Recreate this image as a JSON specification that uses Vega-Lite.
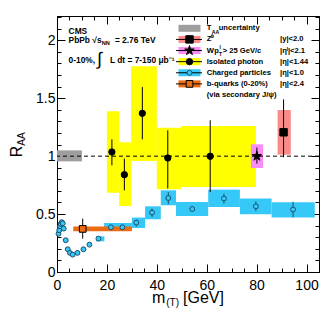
{
  "$schema": "https://vega.github.io/schema/vega-lite/v6.json",
  "width": 262,
  "height": 256,
  "autosize": {"type": "none"},
  "padding": {"left": 57, "top": 16, "right": 13, "bottom": 48},
  "background": "white",
  "config": {
    "view": {"stroke": "black", "strokeWidth": 1},
    "text": {"font": "Liberation Sans", "fontSize": 7.6, "fontWeight": "bold", "color": "black", "align": "left", "baseline": "middle"},
    "axis": {"grid": false, "domainColor": "black", "tickColor": "black", "labelColor": "black", "labelFont": "Liberation Sans", "labelFontSize": 14, "title": null, "labelOverlap": false, "labelFlush": false}
  },
  "datasets": {
    "one": [{}],
    "sys": [
      {"s": "TAA", "x1": 0, "x2": 10, "y1": 0.955, "y2": 1.05},
      {"s": "photon", "x1": 20, "x2": 24.9, "y1": 0.685, "y2": 1.387},
      {"s": "photon", "x1": 24.9, "x2": 29.7, "y1": 0.57, "y2": 1.12},
      {"s": "photon", "x1": 29.7, "x2": 40, "y1": 0.958, "y2": 1.776},
      {"s": "photon", "x1": 40, "x2": 49.7, "y1": 0.714, "y2": 1.246},
      {"s": "photon", "x1": 49.7, "x2": 79.7, "y1": 0.734, "y2": 1.26},
      {"s": "charged", "x1": 15.7, "x2": 19, "y1": 0.265, "y2": 0.308},
      {"s": "charged", "x1": 18.9, "x2": 30, "y1": 0.36, "y2": 0.423},
      {"s": "charged", "x1": 30, "x2": 35.3, "y1": 0.38, "y2": 0.47},
      {"s": "charged", "x1": 35.3, "x2": 41.6, "y1": 0.455, "y2": 0.567},
      {"s": "charged", "x1": 41.6, "x2": 47.7, "y1": 0.576, "y2": 0.705},
      {"s": "charged", "x1": 47.7, "x2": 60.6, "y1": 0.483, "y2": 0.604},
      {"s": "charged", "x1": 60.6, "x2": 73.3, "y1": 0.561, "y2": 0.711},
      {"s": "charged", "x1": 73.3, "x2": 86, "y1": 0.498, "y2": 0.634},
      {"s": "charged", "x1": 86, "x2": 103.3, "y1": 0.47, "y2": 0.602},
      {"s": "bquark", "x1": 6.5, "x2": 30, "y1": 0.351, "y2": 0.392},
      {"s": "W", "x1": 77.7, "x2": 82.6, "y1": 0.898, "y2": 1.102},
      {"s": "Z", "x1": 88.4, "x2": 93.7, "y1": 1.013, "y2": 1.398}
    ],
    "pts": [
      {"s": "charged", "x": 0.6, "y": 0.33},
      {"s": "charged", "x": 0.9, "y": 0.36},
      {"s": "charged", "x": 1.2, "y": 0.395},
      {"s": "charged", "x": 1.5, "y": 0.415},
      {"s": "charged", "x": 1.9, "y": 0.43},
      {"s": "charged", "x": 2.3, "y": 0.42},
      {"s": "charged", "x": 2.7, "y": 0.375},
      {"s": "charged", "x": 3.5, "y": 0.274},
      {"s": "charged", "x": 4.3, "y": 0.196},
      {"s": "charged", "x": 5.2, "y": 0.165},
      {"s": "charged", "x": 6.3, "y": 0.15},
      {"s": "charged", "x": 8.2, "y": 0.165},
      {"s": "charged", "x": 10.6, "y": 0.196},
      {"s": "charged", "x": 13.0, "y": 0.236},
      {"s": "charged", "x": 16.6, "y": 0.288},
      {"s": "charged", "x": 21.6, "y": 0.386},
      {"s": "charged", "x": 26.2, "y": 0.386},
      {"s": "charged", "x": 31.8, "y": 0.426, "lo": 0.394, "hi": 0.452},
      {"s": "charged", "x": 38.1, "y": 0.513, "lo": 0.475, "hi": 0.547},
      {"s": "charged", "x": 44.6, "y": 0.639, "lo": 0.585, "hi": 0.69},
      {"s": "charged", "x": 54.2, "y": 0.544},
      {"s": "charged", "x": 66.9, "y": 0.634, "lo": 0.591, "hi": 0.677},
      {"s": "charged", "x": 79.7, "y": 0.567, "lo": 0.524, "hi": 0.61},
      {"s": "charged", "x": 94.6, "y": 0.539, "lo": 0.472, "hi": 0.606},
      {"s": "bquark", "x": 10.3, "y": 0.372, "lo": 0.288, "hi": 0.461},
      {"s": "photon", "x": 22, "y": 1.036, "lo": 0.921, "hi": 1.145},
      {"s": "photon", "x": 27, "y": 0.84, "lo": 0.705, "hi": 0.979},
      {"s": "photon", "x": 34.2, "y": 1.37, "lo": 1.145, "hi": 1.597},
      {"s": "photon", "x": 44.4, "y": 0.984, "lo": 0.72, "hi": 1.223},
      {"s": "photon", "x": 61.4, "y": 0.999, "lo": 0.69, "hi": 1.31},
      {"s": "W", "x": 80.1, "y": 1.0, "lo": 0.936, "hi": 1.074},
      {"s": "Z", "x": 90.8, "y": 1.206, "lo": 0.99, "hi": 1.49}
    ],
    "leg": [
      {"e": 1, "s": "TAA", "label": "T", "cond": ""},
      {"e": 2, "s": "Z", "label": "Z⁰", "cond": "|y|<2.0"},
      {"e": 3, "s": "W", "label": "W", "cond": "|ηˡ|<2.1"},
      {"e": 4, "s": "photon", "label": "Isolated photon", "cond": "|η|<1.44"},
      {"e": 5, "s": "charged", "label": "Charged particles", "cond": "|η|<1.0"},
      {"e": 6, "s": "bquark", "label": "b-quarks (0-20%)", "cond": "|η|<2.4"},
      {"e": 7, "s": "note", "label": "(via secondary J/ψ)", "cond": ""}
    ]
  },
  "resolve": {"scale": {"y": "independent"}, "axis": {"x": "independent", "y": "independent"}},
  "layer": [
    {
      "resolve": {"axis": {"x": "independent", "y": "independent"}},
      "layer": [
        {
          "data": {"name": "sys"},
          "mark": {"type": "rect"},
          "encoding": {
            "x": {"field": "x1", "type": "quantitative", "scale": {"domain": [0, 105]},
              "axis": {"orient": "bottom", "values": [0,5,10,15,20,25,30,35,40,45,50,55,60,65,70,75,80,85,90,95,100],
                "tickSize": {"condition": {"test": "datum.value % 20 === 0", "value": -8}, "value": -4},
                "labelExpr": "datum.value % 20 === 0 ? datum.label : ''", "labelPadding": 14}},
            "x2": {"field": "x2"},
            "y": {"field": "y1", "type": "quantitative", "scale": {"domain": [0, 2.21]},
              "axis": {"orient": "left", "values": [0,0.1,0.2,0.3,0.4,0.5,0.6,0.7,0.8,0.9,1,1.1,1.2,1.3,1.4,1.5,1.6,1.7,1.8,1.9,2,2.1,2.2],
                "tickSize": {"condition": {"test": "abs(datum.value*2-round(datum.value*2))<0.000001", "value": -8}, "value": -4},
                "labelExpr": "abs(datum.value*2-round(datum.value*2))<0.000001 ? format(datum.value, '~g') : ''", "labelPadding": 10}},
            "y2": {"field": "y2"},
            "color": {"field": "s", "type": "nominal", "legend": null,
              "scale": {"domain": ["TAA", "Z", "W", "photon", "charged", "bquark"], "range": ["#9e9e9e", "#fb8b8b", "#f98cf7", "#ffff00", "#36c8f6", "#ec6c14"]}}
          }
        },
        {
          "data": {"name": "one"},
          "mark": {"type": "rule", "strokeDash": [4, 3], "color": "black", "strokeWidth": 1},
          "encoding": {"y": {"datum": 1, "type": "quantitative", "scale": {"domain": [0, 2.21]}, "axis": null}}
        },
        {
          "data": {"name": "pts"},
          "transform": [{"filter": "isValid(datum.lo)"}],
          "mark": {"type": "rule", "strokeWidth": 1},
          "encoding": {
            "x": {"field": "x", "type": "quantitative", "scale": {"domain": [0, 105]}, "axis": null},
            "y": {"field": "lo", "type": "quantitative", "scale": {"domain": [0, 2.21]}, "axis": null},
            "y2": {"field": "hi"},
            "stroke": {"field": "s", "type": "nominal", "legend": null,
              "scale": {"domain": ["Z", "W", "photon", "charged", "bquark"], "range": ["black", "black", "black", "#1d4f6e", "black"]}}
          }
        },
        {
          "data": {"name": "pts"},
          "mark": {"type": "point", "filled": true, "opacity": 1, "strokeWidth": 1},
          "encoding": {
            "x": {"field": "x", "type": "quantitative", "scale": {"domain": [0, 105]},
              "axis": {"orient": "top", "labels": false, "values": [0,5,10,15,20,25,30,35,40,45,50,55,60,65,70,75,80,85,90,95,100],
                "tickSize": {"condition": {"test": "datum.value % 20 === 0", "value": -8}, "value": -4}}},
            "y": {"field": "y", "type": "quantitative", "scale": {"domain": [0, 2.21]},
              "axis": {"orient": "right", "labels": false, "values": [0,0.1,0.2,0.3,0.4,0.5,0.6,0.7,0.8,0.9,1,1.1,1.2,1.3,1.4,1.5,1.6,1.7,1.8,1.9,2,2.1,2.2],
                "tickSize": {"condition": {"test": "abs(datum.value*2-round(datum.value*2))<0.000001", "value": -8}, "value": -4}}},
            "shape": {"field": "s", "type": "nominal", "legend": null,
              "scale": {"domain": ["Z", "W", "photon", "charged", "bquark"], "range": ["square", "M0,-1L0.2245,-0.309L0.9511,-0.309L0.3633,0.118L0.5878,0.809L0,0.382L-0.5878,0.809L-0.3633,0.118L-0.9511,-0.309L-0.2245,-0.309Z", "circle", "circle", "square"]}},
            "fill": {"field": "s", "type": "nominal", "legend": null,
              "scale": {"domain": ["Z", "W", "photon", "charged", "bquark"], "range": ["black", "black", "black", "#36c8f6", "#ec6c14"]}},
            "stroke": {"field": "s", "type": "nominal", "legend": null,
              "scale": {"domain": ["Z", "W", "photon", "charged", "bquark"], "range": ["black", "black", "black", "#1d4f6e", "black"]}},
            "size": {"field": "s", "type": "nominal", "legend": null,
              "scale": {"type": "ordinal", "domain": ["Z", "W", "photon", "charged", "bquark"], "range": [55, 100, 40, 24, 45]}}
          }
        },
        {
          "data": {"name": "one"},
          "mark": {"type": "text", "text": "CMS", "fontSize": 8.4},
          "encoding": {"x": {"datum": 4.64, "type": "quantitative", "scale": {"domain": [0, 105]}, "axis": null}, "y": {"datum": 2.078, "type": "quantitative", "scale": {"domain": [0, 2.21]}, "axis": null}}
        },
        {
          "data": {"name": "one"},
          "mark": {"type": "text", "text": "PbPb √s", "fontSize": 8.4},
          "encoding": {"x": {"datum": 4.64, "type": "quantitative", "scale": {"domain": [0, 105]}, "axis": null}, "y": {"datum": 2.0, "type": "quantitative", "scale": {"domain": [0, 2.21]}, "axis": null}}
        },
        {
          "data": {"name": "one"},
          "mark": {"type": "text", "text": "NN", "fontSize": 5.6},
          "encoding": {"x": {"datum": 17.9, "type": "quantitative", "scale": {"domain": [0, 105]}, "axis": null}, "y": {"datum": 1.975, "type": "quantitative", "scale": {"domain": [0, 2.21]}, "axis": null}}
        },
        {
          "data": {"name": "one"},
          "mark": {"type": "text", "text": "= 2.76 TeV", "fontSize": 8.4},
          "encoding": {"x": {"datum": 23.2, "type": "quantitative", "scale": {"domain": [0, 105]}, "axis": null}, "y": {"datum": 2.0, "type": "quantitative", "scale": {"domain": [0, 2.21]}, "axis": null}}
        },
        {
          "data": {"name": "one"},
          "mark": {"type": "text", "text": "0-10%,", "fontSize": 8.4},
          "encoding": {"x": {"datum": 4.64, "type": "quantitative", "scale": {"domain": [0, 105]}, "axis": null}, "y": {"datum": 1.827, "type": "quantitative", "scale": {"domain": [0, 2.21]}, "axis": null}}
        },
        {
          "data": {"name": "one"},
          "mark": {"type": "text", "text": "∫", "fontSize": 18, "fontWeight": "normal"},
          "encoding": {"x": {"datum": 16.1, "type": "quantitative", "scale": {"domain": [0, 105]}, "axis": null}, "y": {"datum": 1.83, "type": "quantitative", "scale": {"domain": [0, 2.21]}, "axis": null}}
        },
        {
          "data": {"name": "one"},
          "mark": {"type": "text", "text": "L dt = 7-150 μb⁻¹", "fontSize": 8.4},
          "encoding": {"x": {"datum": 21.2, "type": "quantitative", "scale": {"domain": [0, 105]}, "axis": null}, "y": {"datum": 1.827, "type": "quantitative", "scale": {"domain": [0, 2.21]}, "axis": null}}
        },
        {
          "data": {"name": "one"},
          "mark": {"type": "text", "text": "m", "fontSize": 16, "fontWeight": "normal", "baseline": "alphabetic"},
          "encoding": {"x": {"datum": 38.1, "type": "quantitative", "scale": {"domain": [0, 105]}, "axis": null}, "y": {"datum": -0.27, "type": "quantitative", "scale": {"domain": [0, 2.21]}, "axis": null}}
        },
        {
          "data": {"name": "one"},
          "mark": {"type": "text", "text": "(T)", "fontSize": 10, "fontWeight": "normal", "baseline": "alphabetic"},
          "encoding": {"x": {"datum": 43.8, "type": "quantitative", "scale": {"domain": [0, 105]}, "axis": null}, "y": {"datum": -0.296, "type": "quantitative", "scale": {"domain": [0, 2.21]}, "axis": null}}
        },
        {
          "data": {"name": "one"},
          "mark": {"type": "text", "text": "[GeV]", "fontSize": 16, "fontWeight": "normal", "baseline": "alphabetic"},
          "encoding": {"x": {"datum": 50.5, "type": "quantitative", "scale": {"domain": [0, 105]}, "axis": null}, "y": {"datum": -0.27, "type": "quantitative", "scale": {"domain": [0, 2.21]}, "axis": null}}
        },
        {
          "data": {"name": "one"},
          "mark": {"type": "text", "text": "R", "fontSize": 16, "fontWeight": "normal", "angle": 270, "baseline": "alphabetic"},
          "encoding": {"x": {"datum": -14, "type": "quantitative", "scale": {"domain": [0, 105]}, "axis": null}, "y": {"datum": 0.99, "type": "quantitative", "scale": {"domain": [0, 2.21]}, "axis": null}}
        },
        {
          "data": {"name": "one"},
          "mark": {"type": "text", "text": "AA", "fontSize": 10, "fontWeight": "normal", "angle": 270, "baseline": "alphabetic"},
          "encoding": {"x": {"datum": -13, "type": "quantitative", "scale": {"domain": [0, 105]}, "axis": null}, "y": {"datum": 1.09, "type": "quantitative", "scale": {"domain": [0, 2.21]}, "axis": null}}
        }
      ]
    },
    {
      "layer": [
        {
          "data": {"name": "leg"},
          "transform": [{"filter": "datum.e <= 6"}],
          "mark": {"type": "tick", "orient": "horizontal", "size": 22, "thickness": 7, "opacity": 1},
          "encoding": {
            "x": {"datum": 53.1, "type": "quantitative", "scale": {"domain": [0, 105]}, "axis": null},
            "y": {"field": "e", "type": "quantitative", "scale": {"domain": [-0.106, 22.92], "reverse": true}, "axis": null},
            "color": {"field": "s", "type": "nominal", "legend": null,
              "scale": {"domain": ["TAA", "Z", "W", "photon", "charged", "bquark"], "range": ["#9e9e9e", "#fb8b8b", "#f98cf7", "#ffff00", "#36c8f6", "#ec6c14"]}}
          }
        },
        {
          "data": {"name": "leg"},
          "transform": [{"filter": "datum.e >= 2 && datum.e <= 6"}],
          "mark": {"type": "tick", "orient": "horizontal", "size": 26, "thickness": 1, "color": "black", "opacity": 1},
          "encoding": {
            "x": {"datum": 52.9, "type": "quantitative", "scale": {"domain": [0, 105]}, "axis": null},
            "y": {"field": "e", "type": "quantitative", "scale": {"domain": [-0.106, 22.92], "reverse": true}, "axis": null}
          }
        },
        {
          "data": {"name": "leg"},
          "transform": [{"filter": "datum.e >= 2 && datum.e <= 6"}],
          "mark": {"type": "point", "filled": true, "opacity": 1, "strokeWidth": 1},
          "encoding": {
            "x": {"datum": 53.1, "type": "quantitative", "scale": {"domain": [0, 105]}, "axis": null},
            "y": {"field": "e", "type": "quantitative", "scale": {"domain": [-0.106, 22.92], "reverse": true}, "axis": null},
            "shape": {"field": "s", "type": "nominal", "legend": null},
            "fill": {"field": "s", "type": "nominal", "legend": null},
            "stroke": {"field": "s", "type": "nominal", "legend": null},
            "size": {"field": "s", "type": "nominal", "legend": null, "scale": {"type": "ordinal"}}
          }
        },
        {
          "data": {"name": "leg"},
          "mark": {"type": "text"},
          "encoding": {
            "x": {"datum": 60, "type": "quantitative", "scale": {"domain": [0, 105]}, "axis": null},
            "y": {"field": "e", "type": "quantitative", "scale": {"domain": [-0.106, 22.92], "reverse": true}, "axis": null},
            "text": {"field": "label"}
          }
        },
        {
          "data": {"name": "leg"},
          "mark": {"type": "text"},
          "encoding": {
            "x": {"datum": 89.4, "type": "quantitative", "scale": {"domain": [0, 105]}, "axis": null},
            "y": {"field": "e", "type": "quantitative", "scale": {"domain": [-0.106, 22.92], "reverse": true}, "axis": null},
            "text": {"field": "cond"}
          }
        },
        {
          "data": {"name": "one"},
          "mark": {"type": "text", "text": "AA", "fontSize": 5.2},
          "encoding": {"x": {"datum": 62.0, "type": "quantitative", "scale": {"domain": [0, 105]}, "axis": null}, "y": {"datum": 1.3, "type": "quantitative", "scale": {"domain": [-0.106, 22.92], "reverse": true}, "axis": null}}
        },
        {
          "data": {"name": "one"},
          "mark": {"type": "text", "text": "uncertainty"},
          "encoding": {"x": {"datum": 64.8, "type": "quantitative", "scale": {"domain": [0, 105]}, "axis": null}, "y": {"datum": 1, "type": "quantitative", "scale": {"domain": [-0.106, 22.92], "reverse": true}, "axis": null}}
        },
        {
          "data": {"name": "one"},
          "mark": {"type": "text", "text": "p"},
          "encoding": {"x": {"datum": 63.0, "type": "quantitative", "scale": {"domain": [0, 105]}, "axis": null}, "y": {"datum": 3, "type": "quantitative", "scale": {"domain": [-0.106, 22.92], "reverse": true}, "axis": null}}
        },
        {
          "data": {"name": "one"},
          "mark": {"type": "text", "text": "T", "fontSize": 5},
          "encoding": {"x": {"datum": 64.9, "type": "quantitative", "scale": {"domain": [0, 105]}, "axis": null}, "y": {"datum": 3.35, "type": "quantitative", "scale": {"domain": [-0.106, 22.92], "reverse": true}, "axis": null}}
        },
        {
          "data": {"name": "one"},
          "mark": {"type": "text", "text": "l", "fontSize": 5},
          "encoding": {"x": {"datum": 65.1, "type": "quantitative", "scale": {"domain": [0, 105]}, "axis": null}, "y": {"datum": 2.65, "type": "quantitative", "scale": {"domain": [-0.106, 22.92], "reverse": true}, "axis": null}}
        },
        {
          "data": {"name": "one"},
          "mark": {"type": "text", "text": "> 25 GeV/c"},
          "encoding": {"x": {"datum": 66.4, "type": "quantitative", "scale": {"domain": [0, 105]}, "axis": null}, "y": {"datum": 3, "type": "quantitative", "scale": {"domain": [-0.106, 22.92], "reverse": true}, "axis": null}}
        }
      ]
    }
  ]
}
